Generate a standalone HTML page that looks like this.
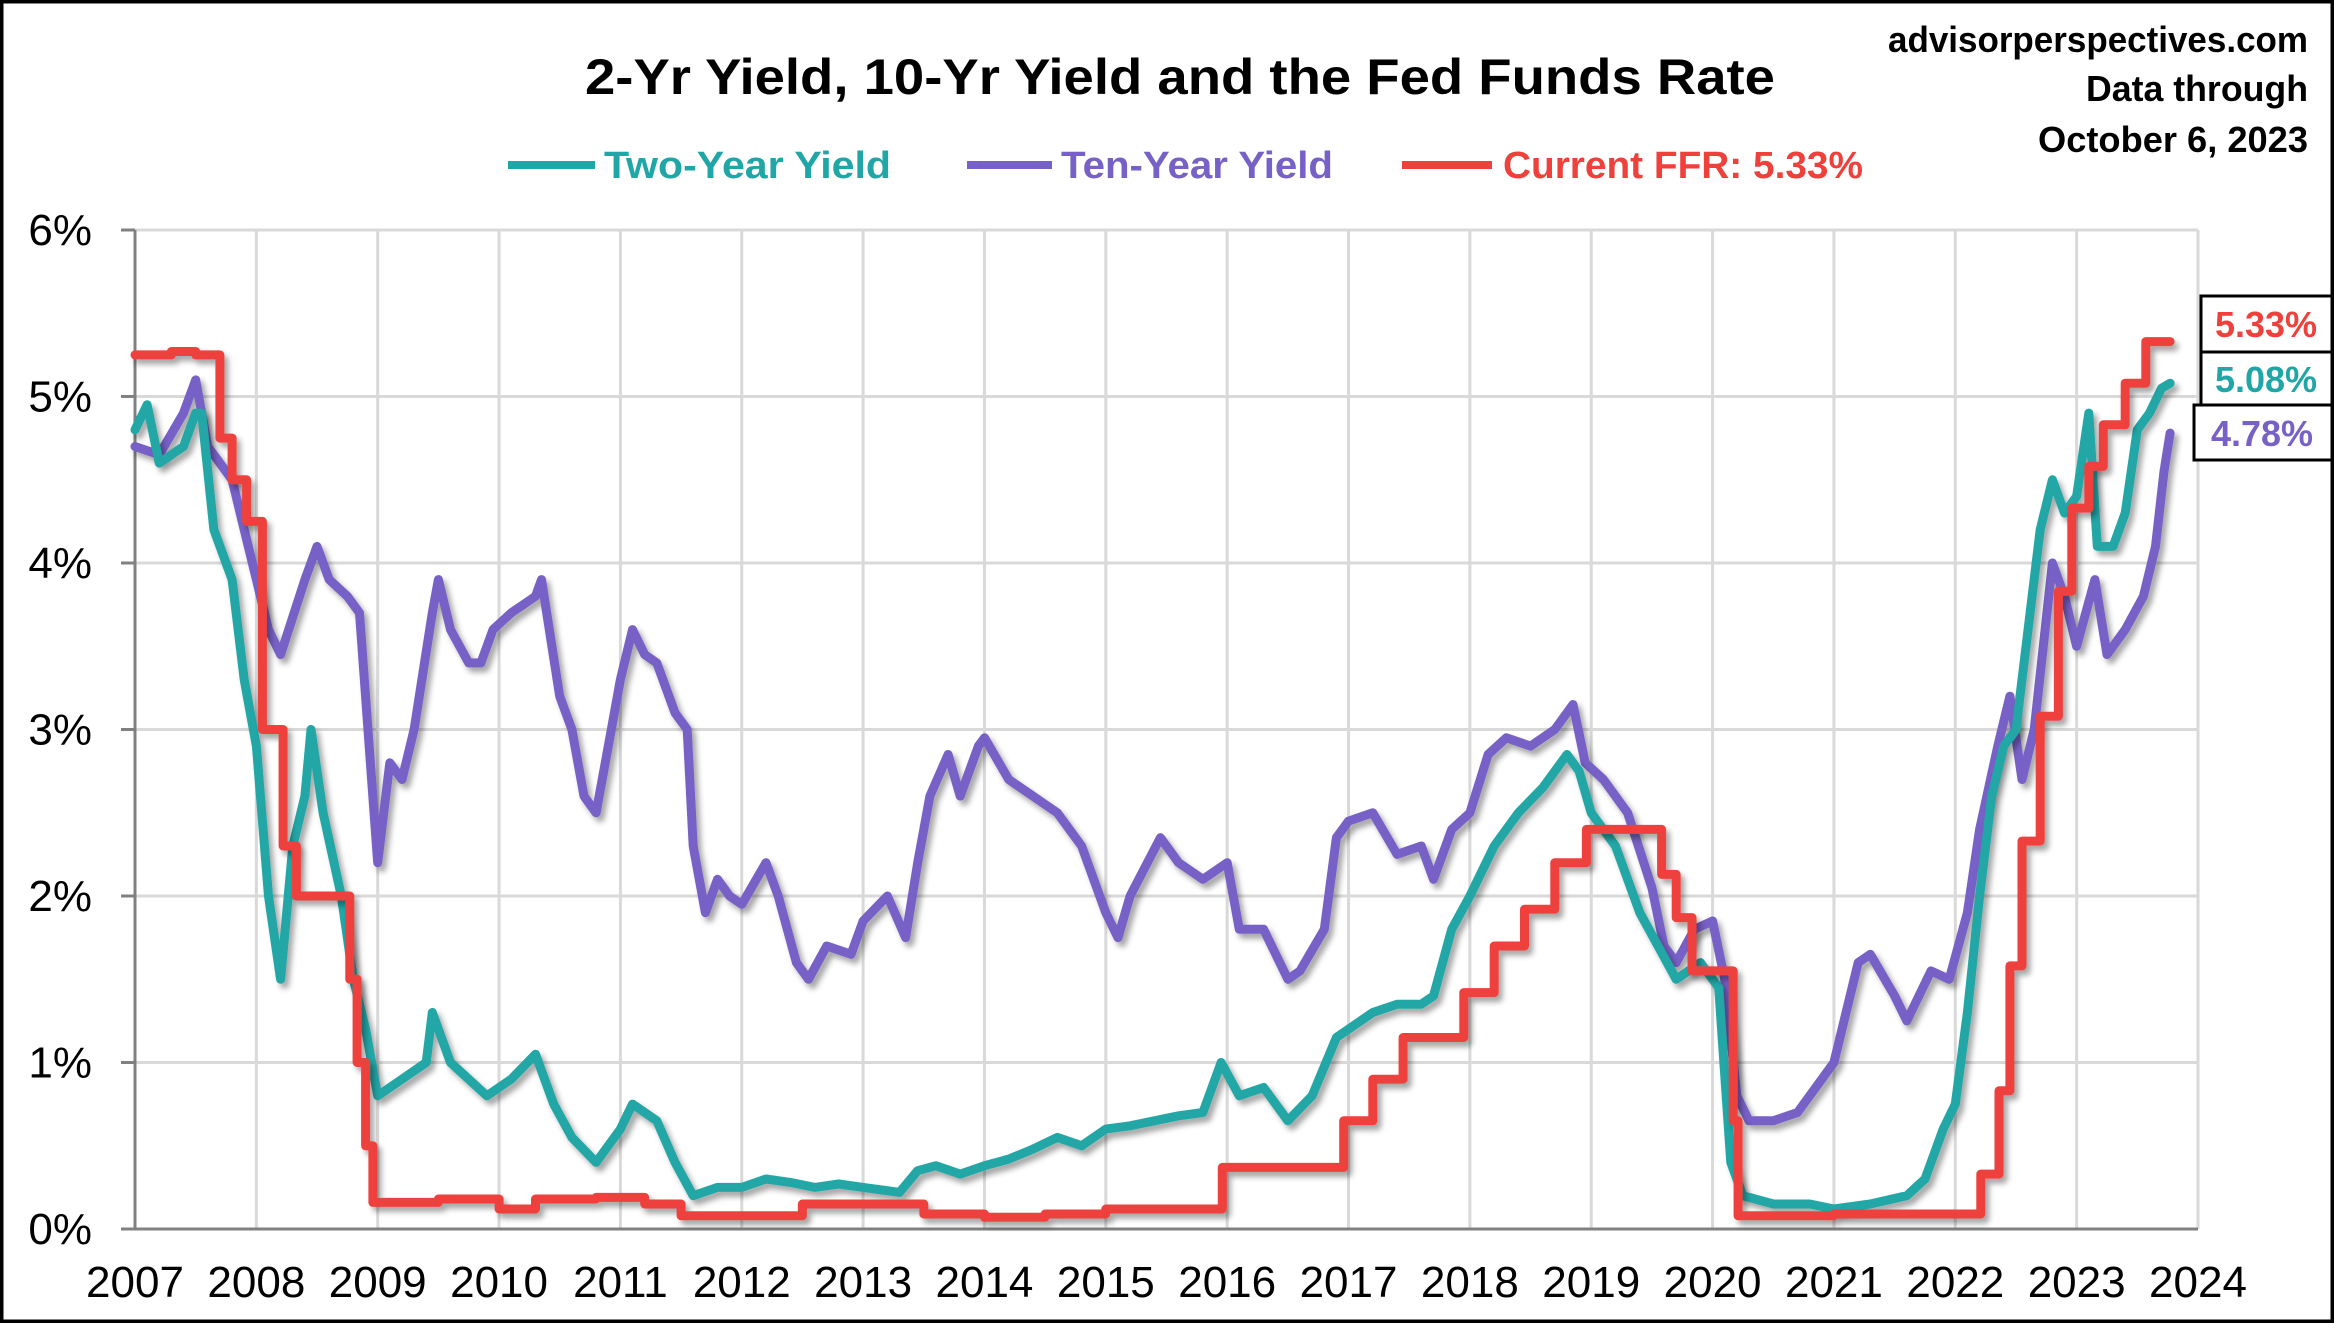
<!DOCTYPE html>
<html><head><meta charset="utf-8"><style>
html,body{margin:0;padding:0;background:#fff}
svg{display:block}
text{font-family:"Liberation Sans",sans-serif}
</style></head><body>
<svg id="chart" width="2334" height="1323" viewBox="0 0 2334 1323" xmlns="http://www.w3.org/2000/svg">
<defs><filter id="sh" x="-5%" y="-5%" width="110%" height="110%"><feDropShadow dx="4" dy="5" stdDeviation="3" flood-color="#000" flood-opacity="0.35"/></filter></defs>
<rect x="1.5" y="1.5" width="2331" height="1320" fill="#fff" stroke="#000" stroke-width="4"/>
<text x="1180" y="94" text-anchor="middle" font-size="50" font-weight="bold" textLength="1190" lengthAdjust="spacingAndGlyphs">2-Yr Yield, 10-Yr Yield and the Fed Funds Rate</text>
<g font-size="36" font-weight="bold" text-anchor="end">
<text x="2308" y="52" textLength="420" lengthAdjust="spacingAndGlyphs">advisorperspectives.com</text>
<text x="2308" y="101" textLength="222" lengthAdjust="spacingAndGlyphs">Data through</text>
<text x="2308" y="152" textLength="270" lengthAdjust="spacingAndGlyphs">October 6, 2023</text>
</g>
<g font-size="38" font-weight="bold">
<g><line x1="508" y1="165" x2="595" y2="165" stroke="#20A6A6" stroke-width="8"/><text x="604" y="178" fill="#20A6A6" textLength="287" lengthAdjust="spacingAndGlyphs">Two-Year Yield</text></g>
<g><line x1="967" y1="165" x2="1052" y2="165" stroke="#7761C6" stroke-width="8"/><text x="1061" y="178" fill="#7761C6" textLength="272" lengthAdjust="spacingAndGlyphs">Ten-Year Yield</text></g>
<g><line x1="1402" y1="165" x2="1492" y2="165" stroke="#EE413C" stroke-width="8"/><text x="1503" y="178" fill="#EE413C" textLength="360" lengthAdjust="spacingAndGlyphs">Current FFR: 5.33%</text></g>
</g>
<g id="grid"></g><g id="axes"></g><g id="series"></g>
<g font-size="36" font-weight="bold" text-anchor="middle">
<rect x="2201" y="296" width="131" height="56" fill="#fff" stroke="#000" stroke-width="3"/>
<text x="2266" y="337" fill="#EE413C">5.33%</text>
<rect x="2201" y="352" width="131" height="53" fill="#fff" stroke="#000" stroke-width="3"/>
<text x="2266" y="392" fill="#20A6A6">5.08%</text>
<rect x="2194" y="405" width="138" height="55" fill="#fff" stroke="#000" stroke-width="3"/>
<text x="2262" y="446" fill="#7761C6">4.78%</text>
</g>
</svg>
<script>
const yearTicks=[2007,2008,2009,2010,2011,2012,2013,2014,2015,2016,2017,2018,2019,2020,2021,2022,2023,2024];
const pctTicks=[0,1,2,3,4,5,6];
const tenDates=[2007.0,2007.2,2007.4,2007.5,2007.6,2007.8,2007.9,2008.0,2008.1,2008.2,2008.4,2008.5,2008.6,2008.75,2008.85,2008.95,2009.0,2009.1,2009.2,2009.3,2009.45,2009.5,2009.6,2009.75,2009.85,2009.95,2010.1,2010.3,2010.35,2010.5,2010.6,2010.7,2010.8,2010.9,2011.0,2011.1,2011.2,2011.3,2011.45,2011.55,2011.6,2011.7,2011.8,2011.9,2012.0,2012.2,2012.3,2012.45,2012.55,2012.7,2012.9,2013.0,2013.2,2013.35,2013.45,2013.55,2013.7,2013.8,2013.95,2014.0,2014.2,2014.4,2014.6,2014.8,2015.0,2015.1,2015.2,2015.45,2015.6,2015.8,2016.0,2016.1,2016.3,2016.5,2016.6,2016.8,2016.9,2017.0,2017.2,2017.4,2017.6,2017.7,2017.85,2018.0,2018.15,2018.3,2018.5,2018.7,2018.85,2018.95,2019.1,2019.3,2019.5,2019.6,2019.7,2019.85,2020.0,2020.1,2020.2,2020.3,2020.5,2020.7,2020.9,2021.0,2021.2,2021.3,2021.5,2021.6,2021.8,2021.95,2022.1,2022.2,2022.35,2022.45,2022.55,2022.65,2022.8,2022.9,2023.0,2023.15,2023.25,2023.4,2023.55,2023.65,2023.72,2023.77];
const tenVals=[4.7,4.65,4.9,5.1,4.7,4.5,4.2,3.9,3.6,3.45,3.9,4.1,3.9,3.8,3.7,2.7,2.2,2.8,2.7,3.0,3.7,3.9,3.6,3.4,3.4,3.6,3.7,3.8,3.9,3.2,3.0,2.6,2.5,2.9,3.3,3.6,3.45,3.4,3.1,3.0,2.3,1.9,2.1,2.0,1.95,2.2,2.0,1.6,1.5,1.7,1.65,1.85,2.0,1.75,2.2,2.6,2.85,2.6,2.9,2.95,2.7,2.6,2.5,2.3,1.9,1.75,2.0,2.35,2.2,2.1,2.2,1.8,1.8,1.5,1.55,1.8,2.35,2.45,2.5,2.25,2.3,2.1,2.4,2.5,2.85,2.95,2.9,3.0,3.15,2.8,2.7,2.5,2.05,1.7,1.6,1.8,1.85,1.5,0.8,0.65,0.65,0.7,0.9,1.0,1.6,1.65,1.4,1.25,1.55,1.5,1.9,2.4,2.9,3.2,2.7,3.0,4.0,3.8,3.5,3.9,3.45,3.6,3.8,4.1,4.55,4.78];
const twoDates=[2007.0,2007.1,2007.2,2007.4,2007.5,2007.55,2007.65,2007.8,2007.9,2008.0,2008.1,2008.2,2008.3,2008.4,2008.45,2008.55,2008.7,2008.8,2008.9,2009.0,2009.2,2009.4,2009.45,2009.6,2009.75,2009.9,2010.1,2010.3,2010.45,2010.6,2010.8,2011.0,2011.1,2011.3,2011.45,2011.6,2011.8,2012.0,2012.2,2012.4,2012.6,2012.8,2013.0,2013.3,2013.45,2013.6,2013.8,2014.0,2014.2,2014.4,2014.6,2014.8,2015.0,2015.2,2015.4,2015.6,2015.8,2015.95,2016.1,2016.3,2016.5,2016.7,2016.9,2017.0,2017.2,2017.4,2017.6,2017.7,2017.85,2018.0,2018.2,2018.4,2018.6,2018.8,2018.9,2019.0,2019.2,2019.4,2019.55,2019.7,2019.9,2020.05,2020.15,2020.25,2020.5,2020.8,2021.0,2021.3,2021.6,2021.75,2021.9,2022.0,2022.1,2022.2,2022.3,2022.4,2022.5,2022.55,2022.7,2022.8,2022.9,2023.0,2023.1,2023.17,2023.3,2023.4,2023.5,2023.6,2023.7,2023.77];
const twoVals=[4.8,4.95,4.6,4.7,4.9,4.9,4.2,3.9,3.3,2.9,2.0,1.5,2.3,2.6,3.0,2.5,2.0,1.5,1.2,0.8,0.9,1.0,1.3,1.0,0.9,0.8,0.9,1.05,0.75,0.55,0.4,0.6,0.75,0.65,0.4,0.2,0.25,0.25,0.3,0.28,0.25,0.27,0.25,0.22,0.35,0.38,0.33,0.38,0.42,0.48,0.55,0.5,0.6,0.62,0.65,0.68,0.7,1.0,0.8,0.85,0.65,0.8,1.15,1.2,1.3,1.35,1.35,1.4,1.8,2.0,2.3,2.5,2.65,2.85,2.75,2.5,2.3,1.9,1.7,1.5,1.6,1.45,0.4,0.2,0.15,0.15,0.12,0.15,0.2,0.3,0.6,0.75,1.3,2.0,2.6,2.9,3.0,3.3,4.2,4.5,4.3,4.4,4.9,4.1,4.1,4.3,4.8,4.9,5.05,5.08];
const ffrDates=[2007.0,2007.3,2007.5,2007.7,2007.8,2007.92,2008.05,2008.12,2008.22,2008.33,2008.5,2008.65,2008.77,2008.83,2008.9,2008.96,2009.5,2010.0,2010.3,2010.8,2011.2,2011.5,2012.0,2012.5,2013.0,2013.5,2014.0,2014.5,2015.0,2015.96,2016.96,2017.2,2017.45,2017.95,2018.2,2018.45,2018.7,2018.96,2019.58,2019.7,2019.83,2020.17,2020.21,2021.0,2022.21,2022.36,2022.45,2022.55,2022.7,2022.85,2022.96,2023.1,2023.22,2023.4,2023.57,2023.77];
const ffrVals=[5.25,5.27,5.25,4.75,4.5,4.25,3.0,3.0,2.3,2.0,2.0,2.0,1.5,1.0,0.5,0.16,0.18,0.12,0.18,0.19,0.15,0.08,0.08,0.15,0.15,0.09,0.07,0.09,0.12,0.37,0.65,0.9,1.15,1.42,1.7,1.92,2.2,2.4,2.13,1.87,1.55,0.65,0.08,0.09,0.33,0.83,1.58,2.33,3.08,3.83,4.33,4.58,4.83,5.08,5.33,5.33];
const NS='http://www.w3.org/2000/svg';
const X0=135,X1=2198,Y0=1229,Y6=230;
const xs=y=>X0+(y-2007)/17*(X1-X0);
const ys=v=>Y0-v/6*(Y0-Y6);
function mk(tag,attrs,parent){const e=document.createElementNS(NS,tag);for(const k in attrs)e.setAttribute(k,attrs[k]);parent.appendChild(e);return e;}
const grid=document.getElementById('grid'),axes=document.getElementById('axes'),series=document.getElementById('series');

yearTicks.forEach(yr=>{
  if(yr>2007){const l=mk('line',{x1:xs(yr),x2:xs(yr),y1:Y6,y2:Y0,stroke:'#d9d9d9','stroke-width':3},grid);
  
  }
  const t=mk('text',{x:xs(yr),y:1297,'text-anchor':'middle','font-size':44},axes);t.textContent=yr;
  
  
});
pctTicks.forEach(p=>{
  if(p>0){const l=mk('line',{x1:X0,x2:X1,y1:ys(p),y2:ys(p),stroke:'#d9d9d9','stroke-width':3},grid);
  
  }
  mk('line',{x1:121,x2:X0,y1:ys(p),y2:ys(p),stroke:'#808080','stroke-width':3},axes);
  const t=mk('text',{x:92,y:ys(p)+15,'text-anchor':'end','font-size':44},axes);t.textContent=p+'%';
  
  
});
const ya=mk('line',{x1:X0,x2:X0,y1:Y6,y2:Y0,stroke:'#808080','stroke-width':3},axes);


const xa=mk('line',{x1:X0-14,x2:X1,y1:Y0,y2:Y0,stroke:'#808080','stroke-width':3},axes);


function lineD(d,v,step){let s='';for(let i=0;i<d.length;i++){
  if(i===0)s+='M'+xs(d[i]).toFixed(1)+','+ys(v[i]).toFixed(1);
  else{ if(step)s+='L'+xs(d[i]).toFixed(1)+','+ys(v[i-1]).toFixed(1); s+='L'+xs(d[i]).toFixed(1)+','+ys(v[i]).toFixed(1);}
}return s;}
const pTen=mk('path',{d:lineD(tenDates,tenVals,false),fill:'none',stroke:'#7761C6','stroke-width':9,'stroke-linejoin':'round','stroke-linecap':'round',filter:'url(#sh)'},series);


const pTwo=mk('path',{d:lineD(twoDates,twoVals,false),fill:'none',stroke:'#20A6A6','stroke-width':9,'stroke-linejoin':'round','stroke-linecap':'round',filter:'url(#sh)'},series);


const pFfr=mk('path',{d:lineD(ffrDates,ffrVals,true),fill:'none',stroke:'#EE413C','stroke-width':9,'stroke-linejoin':'round','stroke-linecap':'round',filter:'url(#sh)'},series);


</script>
</body></html>
